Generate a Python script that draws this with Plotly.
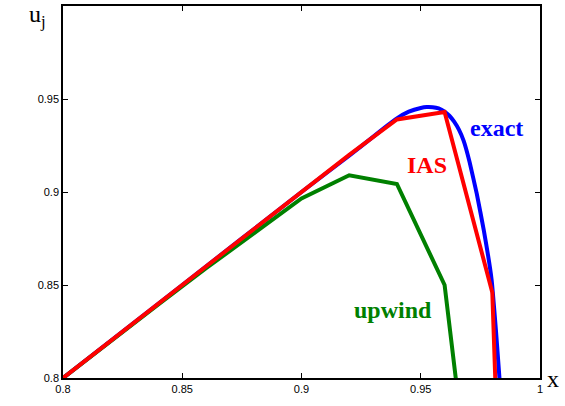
import plotly.graph_objects as go

# grid and numerical solutions
x_grid = [0.80, 0.82, 0.84, 0.86, 0.88, 0.90, 0.92, 0.94, 0.96, 0.98, 1.00]
u_ias = [0.800, 0.820, 0.840, 0.860, 0.880, 0.900, 0.920, 0.939, 0.943, 0.846, 0.100]
u_upwind = [0.800, 0.820, 0.8395, 0.859, 0.878, 0.8965, 0.909, 0.9043, 0.850, 0.636, 0.300]

# exact solution
x_exact = [0.80, 0.85, 0.90, 0.92, 0.93, 0.935, 0.94, 0.945, 0.95, 0.9525, 0.955,
           0.9575, 0.96, 0.962, 0.964, 0.966, 0.968, 0.9705, 0.9735, 0.9765,
           0.9797, 0.9815, 0.983, 0.985]
u_exact = [0.800, 0.850, 0.900, 0.9195, 0.9296, 0.9348, 0.9396, 0.9432, 0.9452,
           0.9457, 0.9456, 0.9449, 0.9432, 0.9410, 0.9378, 0.9335, 0.9275,
           0.916, 0.899, 0.879, 0.853, 0.826, 0.800, 0.760]

x_ticks = [0.8, 0.85, 0.9, 0.95, 1.0]
x_tick_text = ["0.8", "0.85", "0.9", "0.95", "1"]
y_ticks = [0.8, 0.85, 0.9, 0.95, 1.0]
y_tick_text = ["0.8", "0.85", "0.9", "0.95", "1"]

BLUE = "#0000FF"
RED = "#FF0000"
GREEN = "#008000"

fig = go.Figure()
fig.add_trace(go.Scatter(x=x_exact, y=u_exact, mode="lines",
                         line=dict(color=BLUE, width=4, shape="spline", smoothing=0.3),
                         name="exact"))
fig.add_trace(go.Scatter(x=x_grid, y=u_upwind, mode="lines",
                         line=dict(color=GREEN, width=4), name="upwind"))
fig.add_trace(go.Scatter(x=x_grid, y=u_ias, mode="lines",
                         line=dict(color=RED, width=4), name="IAS"))

serif = "Liberation Serif"
W, H = 565, 406
ml, mr, mt, mb = 63, 25, 6, 28
pw, ph = W - ml - mr, H - mt - mb


def px_to_paper(px, py):
    return (px - ml) / pw, 1 - (py - mt) / ph


fig.add_annotation(x=0.9816, y=0.9344, text="<b>exact</b>", showarrow=False,
                   font=dict(family=serif, size=24, color=BLUE), xref="x", yref="y")
fig.add_annotation(x=0.9526, y=0.9145, text="<b>IAS</b>", showarrow=False,
                   font=dict(family=serif, size=24, color=RED), xref="x", yref="y")
fig.add_annotation(x=0.9384, y=0.8366, text="<b>upwind</b>", showarrow=False,
                   font=dict(family=serif, size=24, color=GREEN), xref="x", yref="y")
ux, uy = px_to_paper(37, 16)
fig.add_annotation(x=ux, y=uy, text="u<sub>j</sub>", showarrow=False,
                   font=dict(family=serif, size=24, color="black"),
                   xref="paper", yref="paper", xanchor="center", yanchor="middle")
xx, xy = px_to_paper(553, 379)
fig.add_annotation(x=xx, y=xy, text="x", showarrow=False,
                   font=dict(family=serif, size=24, color="black"),
                   xref="paper", yref="paper", xanchor="center", yanchor="middle")

axis_common = dict(showgrid=False, zeroline=False, showline=True, linecolor="black",
                   linewidth=1.5, mirror="ticks", ticks="inside", ticklen=5,
                   tickwidth=1, tickcolor="black", automargin=False,
                   tickfont=dict(family="Liberation Sans", size=11, color="black"))
fig.update_xaxes(range=[0.8, 1.0], tickvals=x_ticks, ticktext=x_tick_text, **axis_common)
fig.update_yaxes(range=[0.8, 1.0], tickvals=y_ticks, ticktext=y_tick_text, **axis_common)

fig.update_layout(width=W, height=H, margin=dict(l=ml, r=mr, t=mt, b=mb, autoexpand=False),
                  paper_bgcolor="white", plot_bgcolor="white", showlegend=False)

fig.write_html("out.html")
